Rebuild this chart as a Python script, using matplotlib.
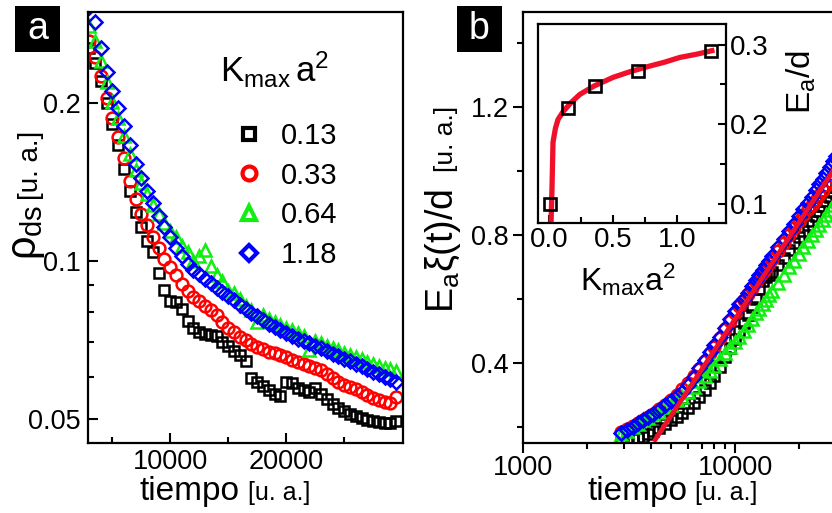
import matplotlib
matplotlib.use('Agg')
import matplotlib.pyplot as plt
from matplotlib.lines import Line2D
from matplotlib.patches import Rectangle
from matplotlib.ticker import NullFormatter

plt.rcParams['font.family'] = ['Liberation Sans', 'DejaVu Sans']
plt.rcParams['mathtext.fontset'] = 'custom'
plt.rcParams['mathtext.rm'] = 'Liberation Sans'
plt.rcParams['mathtext.it'] = 'Liberation Sans'
plt.rcParams['mathtext.bf'] = 'Liberation Sans:bold'

# ---------------- data, panel a ----------------
t_a = [3000, 3500, 4000, 4500, 5000, 5500, 6000, 6500, 7000, 7500,
       8000, 8500, 9000, 9500, 10000, 10500, 11000, 11500, 12000, 12500,
       13000, 13500, 14000, 14500, 15000, 15500, 16000, 16500, 17000, 17500,
       18000, 18500, 19000, 19500, 20000, 20500, 21000, 21500, 22000, 22500,
       23000, 23500, 24000, 24500, 25000, 25500, 26000, 26500, 27000, 27500,
       28000, 28500, 29000, 29500]
rho_013 = [0.255, 0.238, 0.22, 0.2, 0.182, 0.166, 0.15, 0.136, 0.124, 0.116,
           0.109, 0.104, 0.095, 0.088, 0.084, 0.0835, 0.081, 0.077, 0.0745, 0.0732,
           0.0725, 0.0722, 0.0718, 0.0702, 0.0688, 0.0674, 0.0662, 0.0645, 0.0598, 0.0588,
           0.0578, 0.0568, 0.0558, 0.0553, 0.0588, 0.0585, 0.0572, 0.0568, 0.0562, 0.0572,
           0.0558, 0.0545, 0.0533, 0.0524, 0.0517, 0.0512, 0.0507, 0.0503, 0.0498, 0.0495,
           0.0494, 0.0492, 0.0491, 0.0496]
rho_033 = [0.262, 0.245, 0.225, 0.204, 0.187, 0.172, 0.157, 0.142, 0.131, 0.123,
           0.117, 0.111, 0.106, 0.101, 0.0975, 0.094, 0.0905, 0.0875, 0.0855, 0.0838,
           0.0822, 0.0806, 0.079, 0.0765, 0.0745, 0.0731, 0.0717, 0.0706, 0.0696, 0.0687,
           0.0679, 0.0672, 0.0667, 0.0661, 0.0655, 0.0648, 0.0641, 0.0636, 0.0631, 0.0626,
           0.062, 0.061, 0.0598, 0.0587, 0.0581, 0.0576, 0.057, 0.0564, 0.0556, 0.0549,
           0.0543, 0.0538, 0.0536, 0.0551]
rho_064 = [0.28, 0.262, 0.24, 0.219, 0.201, 0.187, 0.173, 0.16, 0.149, 0.141,
           0.134, 0.128, 0.123, 0.118, 0.114, 0.111, 0.107, 0.104, 0.1, 0.102,
           0.105, 0.098, 0.094, 0.0915, 0.0875, 0.087, 0.0845, 0.082, 0.0805, 0.0765,
           0.079, 0.0775, 0.0765, 0.0755, 0.0745, 0.0738, 0.073, 0.0718, 0.0678, 0.0705,
           0.0698, 0.069, 0.0683, 0.0676, 0.0669, 0.0663, 0.0656, 0.065, 0.0643, 0.0637,
           0.0631, 0.0626, 0.0622, 0.0618]
rho_118 = [0.305, 0.285, 0.255, 0.229, 0.211, 0.196, 0.181, 0.166, 0.153, 0.144,
           0.136, 0.129, 0.122, 0.116, 0.111, 0.106, 0.102, 0.0988, 0.0963, 0.0945,
           0.0925, 0.0906, 0.0889, 0.0873, 0.0857, 0.0841, 0.0826, 0.0811, 0.0797, 0.0784,
           0.0771, 0.0759, 0.0749, 0.0739, 0.0729, 0.0719, 0.0711, 0.0703, 0.0697, 0.069,
           0.0682, 0.0673, 0.0665, 0.0658, 0.0651, 0.0644, 0.0637, 0.063, 0.0622, 0.0615,
           0.0608, 0.0602, 0.0596, 0.0589]

# ---------------- data, panel b ----------------
t_b = [2900, 3100, 3300, 3500, 3700, 3900, 4100, 4400, 4700, 5000,
       5300, 5600, 6000, 6400, 6800, 7200, 7600, 8000, 8500, 9000,
       9500, 10000, 10500, 11000, 11500, 12000, 12500, 13000, 13500, 14000,
       14500, 15000, 16000, 17000, 18000, 19000, 20000, 21000, 22000, 23000,
       24000, 25000, 26000, 27000, 28000, 29000, 30000]
xi_013 = [0.15, 0.158, 0.162, 0.165, 0.17, 0.178, 0.186, 0.197, 0.21, 0.221,
          0.232, 0.243, 0.258, 0.275, 0.294, 0.316, 0.338, 0.36, 0.386, 0.418,
          0.448, 0.475, 0.5, 0.525, 0.55, 0.575, 0.6, 0.63, 0.655, 0.668,
          0.676, 0.685, 0.705, 0.728, 0.752, 0.775, 0.795, 0.812, 0.83, 0.845,
          0.86, 0.875, 0.89, 0.905, 0.92, 0.935, 0.95]
xi_033 = [0.185, 0.195, 0.203, 0.213, 0.222, 0.232, 0.242, 0.256, 0.27, 0.285,
          0.3, 0.318, 0.338, 0.36, 0.382, 0.405, 0.43, 0.45, 0.478, 0.505,
          0.53, 0.555, 0.578, 0.598, 0.615, 0.635, 0.652, 0.668, 0.683, 0.698,
          0.712, 0.725, 0.75, 0.776, 0.8, 0.822, 0.845, 0.862, 0.88, 0.895,
          0.91, 0.925, 0.94, 0.955, 0.97, 0.985, 1.0]
xi_064 = [0.178, 0.186, 0.2, 0.208, 0.222, 0.228, 0.24, 0.248, 0.262, 0.27,
          0.284, 0.295, 0.31, 0.326, 0.344, 0.36, 0.376, 0.392, 0.412, 0.432,
          0.45, 0.466, 0.482, 0.5, 0.52, 0.538, 0.555, 0.57, 0.585, 0.598,
          0.612, 0.625, 0.65, 0.676, 0.7, 0.72, 0.742, 0.762, 0.78, 0.8,
          0.815, 0.83, 0.846, 0.862, 0.878, 0.894, 0.91]
xi_118 = [0.182, 0.19, 0.2, 0.212, 0.222, 0.232, 0.241, 0.253, 0.268, 0.282,
          0.296, 0.31, 0.332, 0.356, 0.385, 0.41, 0.434, 0.455, 0.481, 0.51,
          0.538, 0.563, 0.584, 0.601, 0.62, 0.64, 0.658, 0.674, 0.69, 0.705,
          0.72, 0.735, 0.762, 0.787, 0.812, 0.836, 0.858, 0.88, 0.9, 0.92,
          0.94, 0.958, 0.976, 0.995, 1.012, 1.03, 1.046]
fit_t = [4200, 40000]
fit_xi = [0.16, 1.14]

# ---------------- data, inset ----------------
kmax = [0.01, 0.15, 0.36, 0.69, 1.26]
ea_d = [0.1, 0.221, 0.2475, 0.2675, 0.2925]
curve_k = [0.016, 0.023, 0.031, 0.05, 0.07, 0.11, 0.17, 0.24, 0.35, 0.5,
           0.63, 0.77, 0.9, 1.02, 1.15, 1.27]
curve_e = [0.0775, 0.119, 0.1775, 0.195, 0.206, 0.216, 0.227, 0.2375, 0.248, 0.259,
           0.266, 0.2725, 0.278, 0.284, 0.288, 0.2925]

labels = ['0.13', '0.33', '0.64', '1.18']
colors = ['#000000', '#ff0000', '#11ee11', '#0000ff']
markers = ['s', 'o', '^', 'D']
sizes = [7.5, 8.5, 9, 7]

W, H = 832, 513
fig = plt.figure(figsize=(W / 100, H / 100), dpi=100)

def fx(px):
    return px / W

def fy(py):
    return 1 - py / H

# ===== panel a =====
ax1 = fig.add_axes([fx(88), fy(443), 315 / W, 431 / H])
for y, c, m, s in zip([rho_013, rho_033, rho_064, rho_118], colors, markers, sizes):
    ax1.plot(t_a, y, ls='none', marker=m, ms=s, mfc='none', mec=c, mew=1.8)
ax1.set_yscale('log')
ax1.set_xlim(2900, 30080)
ax1.set_ylim(0.045, 0.298)
ax1.set_yticks([0.05, 0.1, 0.2], labels=['0.05', '0.1', '0.2'])
ax1.set_yticks([0.06, 0.07, 0.08, 0.09], minor=True)
ax1.yaxis.set_minor_formatter(NullFormatter())
ax1.set_xticks([10000, 20000], labels=['10000', '20000'])
ax1.set_xticks([5000, 15000, 25000], minor=True)
ax1.tick_params(which='both', direction='in', width=1.5, labelsize=19.5)
ax1.tick_params(which='major', length=7)
ax1.tick_params(which='minor', length=4)
ax1.tick_params(axis='y', pad=5)
ax1.tick_params(axis='x', pad=4)
for sp in ax1.spines.values():
    sp.set_linewidth(1.6)

handles = [Line2D([], [], ls='none', marker=m, ms=s + 1.5, mfc='none', mec=c, mew=3)
           for c, m, s in zip(colors, markers, sizes)]
ax1.legend(handles, labels, loc='upper left', bbox_to_anchor=(0.465, 0.745),
           frameon=False, fontsize=21, handlelength=1.0, handletextpad=0.6,
           labelspacing=0.4, borderpad=0, borderaxespad=0)
fig.text(fx(220), fy(82), r'$\mathrm{K}_{\mathrm{max}}\,\mathrm{a}^{2}$', fontsize=25,
         ha='left', va='baseline')

fig.text(fx(36), fy(260), r'$\rho_{\mathrm{ds}}$', fontsize=30, rotation=90,
         rotation_mode='anchor', ha='left', va='baseline')
fig.text(fx(38), fy(200), '[u. a.]', fontsize=20, rotation=90,
         rotation_mode='anchor', ha='left', va='baseline')
fig.text(fx(140), fy(500), 'tiempo', fontsize=24, ha='left', va='baseline')
fig.text(fx(248), fy(500), '[u. a.]', fontsize=18, ha='left', va='baseline')

# ===== panel b =====
ax2 = fig.add_axes([fx(523), fy(443), 380 / W, 431 / H])
for y, c, m, s in zip([xi_013, xi_033, xi_064, xi_118], colors, markers, sizes):
    ax2.plot(t_b, y, ls='none', marker=m, ms=s, mfc='none', mec=c, mew=1.8)
ax2.plot(fit_t, fit_xi, color='#f0102a', lw=3.4)
ax2.set_xscale('log')
ax2.set_xlim(1000, 62000)
ax2.set_ylim(0.15, 1.497)
ax2.set_xticks([1000, 10000], labels=['1000', '10000'])
ax2.xaxis.set_minor_formatter(NullFormatter())
ax2.set_yticks([0.4, 0.8, 1.2], labels=['0.4', '0.8', '1.2'])
ax2.set_yticks([0.2, 0.6, 1.0, 1.4], minor=True)
ax2.tick_params(which='both', direction='out', width=1.5, labelsize=19.5)
ax2.tick_params(which='major', length=7, pad=3)
ax2.tick_params(axis='x', pad=1.5)
ax2.tick_params(which='minor', length=4)
for sp in ax2.spines.values():
    sp.set_linewidth(1.6)

fig.text(fx(453), fy(313), r'$\mathrm{E}_{\mathrm{a}}\xi(\mathrm{t})/\mathrm{d}$', fontsize=27,
         rotation=90, rotation_mode='anchor', ha='left', va='baseline')
fig.text(fx(453), fy(172), '[u. a.]', fontsize=19, rotation=90,
         rotation_mode='anchor', ha='left', va='baseline')
fig.text(fx(587), fy(500), 'tiempo', fontsize=24, ha='left', va='baseline')
fig.text(fx(695), fy(500), '[u. a.]', fontsize=18, ha='left', va='baseline')

# ===== inset =====
ax3 = fig.add_axes([fx(538), fy(223), 188 / W, 199 / H])
ax3.plot(curve_k, curve_e, color='#f0102a', lw=3.8, zorder=2)
ax3.plot(kmax, ea_d, ls='none', marker='s', ms=9, mfc='none', mec='k', mew=1.9, zorder=3)
ax3.set_xlim(-0.086, 1.38)
ax3.set_ylim(0.076, 0.326)
ax3.set_xticks([0.0, 0.5, 1.0], labels=['0.0', '0.5', '1.0'])
ax3.set_xticks([0.25, 0.75, 1.25], minor=True)
ax3.set_yticks([0.1, 0.2, 0.3], labels=['0.1', '0.2', '0.3'])
ax3.set_yticks([0.15, 0.25], minor=True)
ax3.yaxis.tick_right()
ax3.tick_params(which='both', direction='in', width=1.5, labelsize=20)
ax3.tick_params(which='major', length=6, pad=3)
ax3.tick_params(which='minor', length=4)
for sp in ax3.spines.values():
    sp.set_linewidth(1.6)
fig.text(fx(628), fy(291), r'$\mathrm{K}_{\mathrm{max}}\mathrm{a}^{2}$', fontsize=23,
         ha='center', va='baseline')
fig.text(fx(801), fy(82), r'$\mathrm{E}_{\mathrm{a}}/\mathrm{d}$', fontsize=24,
         rotation=90, ha='center', va='center')

# panel letters
for x0, letter in [(15, 'a'), (457, 'b')]:
    fig.add_artist(Rectangle((fx(x0), fy(52)), 45 / W, 46 / H, transform=fig.transFigure,
                             facecolor='black', edgecolor='none'))
    fig.text(fx(x0 + 22.5), fy(29), letter, color='white', fontsize=27,
             ha='center', va='center')

fig.savefig('out.png', dpi=100)
